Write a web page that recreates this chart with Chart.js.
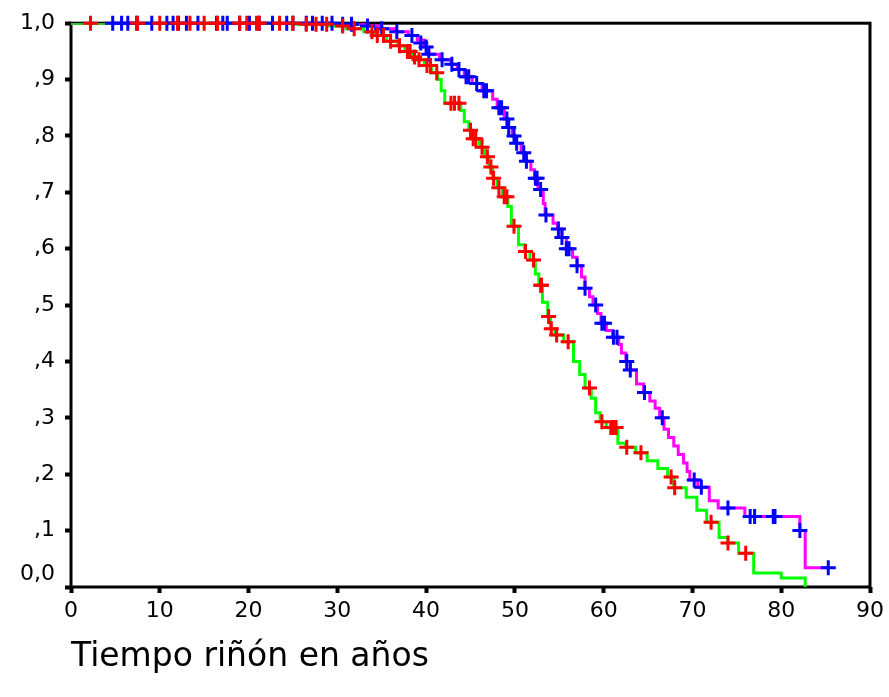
<!DOCTYPE html>
<html>
<head>
<meta charset="utf-8">
<script src="https://cdn.jsdelivr.net/npm/chart.js@4/dist/chart.umd.min.js"></script>
<style>
  html, body { margin: 0; padding: 0; background: #fff; }
  canvas { display: block; }
</style>
</head>
<body>
<canvas id="myChart" width="889" height="697"></canvas>
<script>
// Kaplan-Meier curves (time in years, cumulative survival)
const timesA = [0, 30, 33, 35, 36.5, 38, 39, 39.8, 40.3, 41.5, 42.8, 43.5, 44.3, 45.2, 46.3, 47.5, 48, 48.8, 49.2, 49.7,
  50.1, 50.7, 51.2, 51.8, 52.2, 52.6, 53.2, 53.4, 54.3, 54.8, 55.3, 55.8, 56.5, 57, 57.5, 57.9, 58.4, 58.8, 59.3, 59.7,
  60.3, 61, 61.7, 62, 62.5, 63, 63.7, 64.5, 65.2, 65.8, 66.3, 66.8, 67.3, 67.9, 68.4, 69, 69.4, 69.7, 70.6, 71.9,
  72.9, 75.9, 82.1, 82.7, 85.3];
const survA = [1, 0.998, 0.995, 0.99, 0.985, 0.978, 0.97, 0.958, 0.945, 0.935, 0.927, 0.918, 0.905, 0.893, 0.88, 0.865, 0.85, 0.83, 0.815, 0.8,
  0.787, 0.77, 0.755, 0.74, 0.725, 0.705, 0.68, 0.66, 0.645, 0.635, 0.62, 0.6, 0.585, 0.57, 0.55, 0.53, 0.515, 0.5, 0.485, 0.468,
  0.455, 0.443, 0.43, 0.415, 0.4, 0.385, 0.36, 0.345, 0.33, 0.317, 0.3, 0.28, 0.265, 0.25, 0.235, 0.22, 0.205, 0.19, 0.177, 0.153,
  0.14, 0.125, 0.1, 0.034, 0.034];

const timesB = [0, 25, 29, 31, 33, 34.2, 35.5, 36.8, 37.6, 38.5, 39, 39.8, 40.6, 41.3, 41.7, 42.1, 43.9, 44.3, 44.8, 45.2,
  46, 46.6, 47.1, 47.5, 48, 48.6, 49.2, 49.6, 50.4, 51.1, 51.7, 52.3, 52.7, 53.1, 53.7, 54, 54.5, 55.5, 56.6, 57.3,
  57.9, 58.6, 59.1, 59.6, 60.3, 61.6, 62.5, 63.6, 64.9, 66.1, 67.2, 67.9, 69.3, 70.5, 71.6, 73, 74, 75.2, 76.9, 80, 82.7];
const survB = [1, 0.998, 0.995, 0.99, 0.985, 0.978, 0.968, 0.96, 0.95, 0.94, 0.935, 0.925, 0.912, 0.9, 0.88, 0.858, 0.845, 0.825, 0.81, 0.795,
  0.78, 0.763, 0.745, 0.725, 0.708, 0.692, 0.675, 0.64, 0.607, 0.595, 0.58, 0.555, 0.535, 0.505, 0.48, 0.458, 0.447, 0.435, 0.4, 0.377,
  0.353, 0.335, 0.309, 0.293, 0.283, 0.255, 0.248, 0.238, 0.224, 0.21, 0.195, 0.176, 0.159, 0.136, 0.115, 0.088, 0.078, 0.06, 0.025, 0.016, 0];

// censored cases [time, survival]
const censorA = [[4.7, 1], [5.7, 1], [6.4, 1], [7.4, 1], [9.1, 1], [10.8, 1], [11.5, 1], [12.1, 1], [13, 1], [14.3, 1],
  [16.4, 1], [17.1, 1], [17.6, 1], [19, 1], [20.1, 1], [21.2, 1], [22.7, 1], [24.3, 1], [25, 1], [26.5, 1], [27.2, 1],
  [28.3, 1], [29.4, 1], [30.6, 0.998], [31.6, 0.998], [33.4, 0.995], [35, 0.99], [36.7, 0.985], [38.4, 0.978],
  [39.4, 0.965], [40, 0.958], [40.3, 0.945], [41.8, 0.935], [42.9, 0.927], [43.7, 0.918], [44.5, 0.905], [44.8, 0.905],
  [45.7, 0.893], [46.5, 0.88], [46.8, 0.88], [48.2, 0.85], [48.5, 0.85], [49.1, 0.83], [49.3, 0.815], [49.9, 0.8],
  [50.2, 0.787], [51, 0.77], [51.3, 0.755], [52.3, 0.725], [52.5, 0.725], [52.9, 0.705], [53.5, 0.66], [54.9, 0.635],
  [55.3, 0.62], [55.8, 0.6], [56.1, 0.6], [57, 0.57], [57.9, 0.53], [59.1, 0.5], [59.8, 0.468], [60.1, 0.468],
  [61.1, 0.443], [61.5, 0.443], [62.6, 0.4], [63, 0.385], [64.6, 0.345], [66.6, 0.3], [70.2, 0.19], [71, 0.177],
  [74, 0.14], [76.5, 0.125], [77, 0.125], [79.1, 0.125], [79.3, 0.125], [82.1, 0.1], [85.3, 0.034]];
const censorB = [[2.2, 1], [7.5, 1], [10, 1], [12, 1], [13.4, 1], [15, 1], [16.5, 1], [19, 1], [19.8, 1], [20.9, 1],
  [21.2, 1], [23.5, 1], [25, 1], [26.5, 0.998], [27.6, 0.998], [28.8, 0.998], [30.6, 0.995], [31.9, 0.99], [33.9, 0.985],
  [34.5, 0.978], [35.2, 0.978], [36, 0.968], [37, 0.96], [37.9, 0.95], [38.2, 0.95], [38.7, 0.94], [39.2, 0.935],
  [40.1, 0.925], [40.5, 0.925], [41.2, 0.912], [42.8, 0.858], [43.2, 0.858], [43.7, 0.858], [45, 0.81], [45.3, 0.795],
  [45.6, 0.795], [46.3, 0.78], [46.9, 0.763], [47.3, 0.745], [47.6, 0.725], [48.2, 0.708], [48.8, 0.692], [49.1, 0.692],
  [49.9, 0.64], [51.2, 0.595], [52.1, 0.58], [52.9, 0.535], [53, 0.535], [53.8, 0.48], [54.1, 0.458], [54.7, 0.447],
  [56, 0.435], [58.4, 0.353], [59.8, 0.293], [60.8, 0.283], [61.1, 0.283], [61.4, 0.283], [62.6, 0.248], [64.2, 0.238],
  [67.6, 0.195], [68, 0.176], [72.1, 0.115], [74, 0.078], [76, 0.06]];

const yTickLabels = [['0,0', ''], ',1', ',2', ',3', ',4', ',5', ',6', ',7', ',8', ',9', '1,0'];
const xTitle = 'Tiempo riñón en años';

const toPoints = (xs, ys) => xs.map((x, i) => ({ x: x, y: ys[i] }));
const pairPoints = (list) => list.map(p => ({ x: p[0], y: p[1] }));

const framePlugin = {
  id: 'frame',
  beforeDatasetsDraw(chart) {
    const { ctx, chartArea: a } = chart;
    ctx.save();
    ctx.strokeStyle = '#000';
    ctx.lineWidth = 3;
    ctx.strokeRect(a.left, a.top, a.right - a.left, a.bottom - a.top);
    ctx.restore();
  }
};

const tickFont = { family: '"DejaVu Sans", sans-serif', size: 22 };

const ctx = document.getElementById('myChart');

new Chart(ctx, {
  type: 'line',
  data: {
    datasets: [
      {
        type: 'scatter',
        data: pairPoints(censorB),
        pointStyle: 'cross',
        pointRadius: 7.5,
        pointBorderWidth: 3,
        borderColor: '#ff0000',
        backgroundColor: '#ff0000',
        clip: false
      },
      {
        type: 'scatter',
        data: pairPoints(censorA),
        pointStyle: 'cross',
        pointRadius: 7.5,
        pointBorderWidth: 3,
        borderColor: '#0000ff',
        backgroundColor: '#0000ff',
        clip: false
      },
      {
        data: toPoints(timesB, survB),
        stepped: true,
        borderColor: '#00ff00',
        borderWidth: 3,
        pointRadius: 0,
        fill: false
      },
      {
        data: toPoints(timesA, survA),
        stepped: true,
        borderColor: '#ff00ff',
        borderWidth: 3,
        pointRadius: 0,
        fill: false
      }
    ]
  },
  options: {
    responsive: false,
    animation: false,
    layout: { padding: { top: 20, right: 18, bottom: 0, left: 0 } },
    plugins: {
      legend: { display: false },
      tooltip: { enabled: false }
    },
    scales: {
      x: {
        type: 'linear',
        min: 0,
        max: 90,
        afterFit(scale) { scale.height = 110; },
        ticks: { stepSize: 10, color: '#000', font: tickFont, padding: 5, maxRotation: 0, autoSkip: false },
        grid: { drawOnChartArea: false, drawTicks: true, tickLength: 6, tickWidth: 4, tickColor: '#000' },
        border: { display: false },
        title: {
          display: true,
          text: xTitle,
          align: 'start',
          color: '#000',
          font: { family: '"DejaVu Sans", sans-serif', size: 33 },
          padding: { top: 0, bottom: 20 }
        }
      },
      y: {
        type: 'linear',
        min: 0,
        max: 1,
        afterFit(scale) { scale.width = 71; },
        ticks: {
          stepSize: 0.1,
          autoSkip: false,
          color: '#000',
          font: tickFont,
          padding: 10,
          callback: (v) => yTickLabels[Math.round(v * 10)]
        },
        grid: { drawOnChartArea: false, drawTicks: true, tickLength: 6, tickWidth: 4, tickColor: '#000' },
        border: { display: false }
      }
    }
  },
  plugins: [framePlugin]
});
</script>
</body>
</html>
